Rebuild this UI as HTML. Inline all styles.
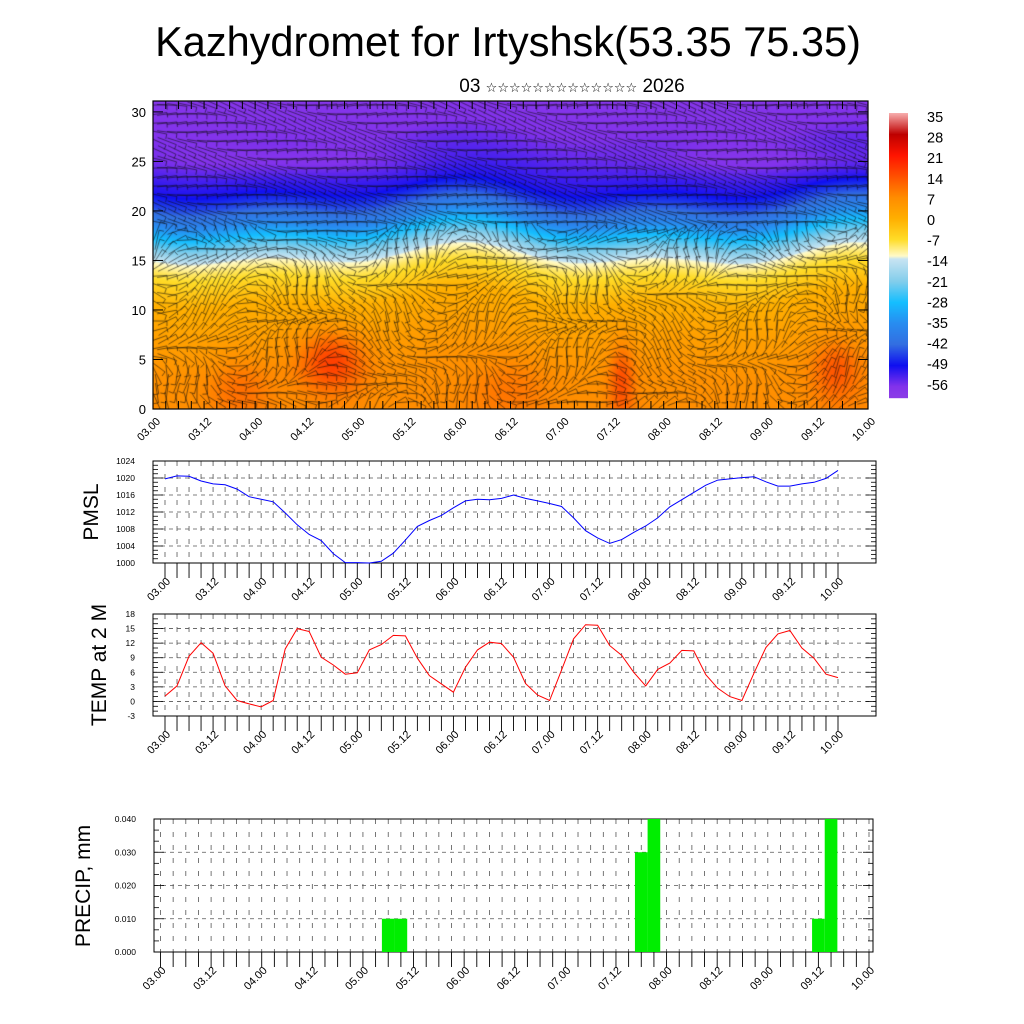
<!DOCTYPE html>
<html><head><meta charset="utf-8"><style>
html,body{margin:0;padding:0;background:#fff;}
#wrap{position:relative;width:1024px;height:1024px;overflow:hidden;font-family:"Liberation Sans",sans-serif;}
#field{position:absolute;left:153px;top:101px;}
svg{position:absolute;left:0;top:0;}
</style></head><body>
<div id="wrap">
<canvas id="field" width="715" height="308"></canvas>
<svg id="svg" width="1024" height="1024">
<text x="508" y="56" text-anchor="middle" font-size="41.5" font-family="Liberation Sans, sans-serif">Kazhydromet for Irtyshsk(53.35 75.35)</text>
<text x="572" y="92" text-anchor="middle" font-size="19" font-family="Liberation Sans, DejaVu Sans, sans-serif">03 <tspan font-size="13">☆☆☆☆☆☆☆☆☆☆☆☆☆</tspan> 2026</text>
<text transform="translate(98,512) rotate(-90)" text-anchor="middle" font-size="21">PMSL</text>
<text transform="translate(106,665) rotate(-90)" text-anchor="middle" font-size="21">TEMP at 2 M</text>
<text transform="translate(90,886) rotate(-90)" text-anchor="middle" font-size="21">PRECIP, mm</text>
</svg>
</div>
<script>
const timeLabels=["03.00","03.12","04.00","04.12","05.00","05.12","06.00","06.12","07.00","07.12","08.00","08.12","09.00","09.12","10.00"];
const pmslValues=[1019.8,1020.5,1020.4,1019.3,1018.6,1018.4,1017.4,1015.6,1015,1014.4,1011.8,1009,1006.7,1005.3,1002.2,1000.1,1000.1,1000,1000.4,1002.3,1005.4,1008.6,1010,1011.2,1013,1014.6,1015,1014.9,1015.2,1016,1015.2,1014.6,1014,1013.3,1010.6,1007.6,1005.9,1004.6,1005.5,1007.2,1008.7,1010.6,1013.2,1014.9,1016.6,1018.3,1019.5,1019.8,1020.1,1020.3,1019.1,1018.1,1018.1,1018.6,1019,1019.9,1021.8];
const pmslTicks=[1000,1004,1008,1012,1016,1020,1024];
const tempValues=[1.1,3.2,9.3,12.1,9.9,3.2,0.2,-0.5,-1.1,0.2,10.8,15.0,14.4,9.1,7.5,5.6,5.9,10.6,11.7,13.6,13.5,8.9,5.3,3.6,1.9,7.0,10.6,12.2,11.9,9.1,3.7,1.3,0.2,6.5,12.9,15.8,15.7,11.5,9.5,6.0,3.2,6.6,7.9,10.5,10.4,5.5,2.7,1.0,0.2,5.8,11.1,13.9,14.6,11.0,8.9,5.6,4.9];
const tempTicks=[-3,0,3,6,9,12,15,18];
const precipIndex=[18,19,38,39,52,53];
const precipValues=[0.01,0.01,0.03,0.04,0.01,0.04];
const precipTicks=["0.000","0.010","0.020","0.030","0.040"];
const heightTicks=[0,5,10,15,20,25,30];
const cbarLabels=[35,28,21,14,7,0,-7,-14,-21,-28,-35,-42,-49,-56];

const NS="http://www.w3.org/2000/svg";
const svg=document.getElementById('svg');
function mk(tag,attrs,parent){const e=document.createElementNS(NS,tag);for(const k in attrs)e.setAttribute(k,attrs[k]);(parent||svg).appendChild(e);return e;}
function txt(x,y,s,size,anchor,tr){const t=mk('text',{x:x,y:y,'font-size':size,'text-anchor':anchor||'end'});if(tr)t.setAttribute('transform',tr);t.textContent=s;return t;}

const cstops=[[35,[246,170,170]],[28,[190,0,0]],[21,[255,20,0]],[14,[255,80,0]],[7,[255,140,0]],[0,[255,175,0]],[-7,[255,220,40]],[-12.5,[255,250,200]],[-13.5,[200,228,242]],[-21,[130,205,235]],[-28,[20,190,255]],[-35,[40,140,240]],[-42,[50,110,225]],[-49,[15,15,240]],[-56,[130,50,235]],[-60,[140,60,230]]];
function cmap(v){if(v>=cstops[0][0])return cstops[0][1];for(let i=0;i<cstops.length-1;i++){const a=cstops[i],b=cstops[i+1];if(v<=a[0]&&v>=b[0]){const t=(a[0]-v)/(a[0]-b[0]);return a[1].map((c,j)=>Math.round(c+(b[1][j]-c)*t));}}return cstops[cstops.length-1][1];}
const profH=[0,4,8,11,13,14.5,15.5,16.5,18,19.5,21,22.5,24,26,28,31];
const profT=[7,6,3,0,-5,-9,-13,-20,-29,-38,-45,-50,-52,-54,-56,-57];
function prof(h){for(let i=0;i<profH.length-1;i++){if(h<=profH[i+1]){const t=(h-profH[i])/(profH[i+1]-profH[i]);return profT[i]+(profT[i+1]-profT[i])*t;}}return profT[profT.length-1];}
const hot=[[0.25,5,11,1.3,3],[0.655,3,8,0.5,4],[0.955,4,7,0.9,3],[0.12,2,4,1.2,3],[0.5,2,3,1.5,3]];
function field(fx,h){
  let hh=h+0.8*Math.sin(fx*11)+0.6*Math.sin(fx*23+1);
  let T=prof(hh);
  for(const s of hot){const dx=(fx-s[0])/(0.035*s[3]),dy=(h-s[1])/s[4];T+=s[2]*Math.exp(-(dx*dx+dy*dy));}
  if(h>22&&h<28){T-=3*Math.exp(-Math.pow((h-25)/1.5,2))*(0.5+0.5*Math.sin(fx*9));}
  return T;
}
const cv=document.getElementById('field');const ctx=cv.getContext('2d');
const W=715,H=308,HMAX=31.1;
const img=ctx.createImageData(W,H);
for(let y=0;y<H;y++){const h=(H-y)/H*HMAX;for(let x=0;x<W;x++){const c=cmap(field(x/W,h));const p=(y*W+x)*4;img.data[p]=c[0];img.data[p+1]=c[1];img.data[p+2]=c[2];img.data[p+3]=255;}}
ctx.putImageData(img,0,0);
ctx.strokeStyle='rgba(10,10,10,0.7)';ctx.lineWidth=0.8;
for(let gy=4;gy<H;gy+=9){for(let gx=4;gx<W;gx+=10){
  const fx=gx/W,h=(H-gy)/H*HMAX;
  let a=0.9*Math.sin(fx*17+h*0.3)+0.7*Math.cos(fx*31-h*0.5)+0.4*Math.sin(h*0.7);
  if(h>18)a=0.3*Math.sin(fx*20+h)+0.15;
  const L=20;const dx=Math.cos(a)*L/2,dy=Math.sin(a)*L/2;
  ctx.beginPath();ctx.moveTo(gx-dx,gy-dy);ctx.lineTo(gx+dx,gy+dy);
  ctx.moveTo(gx+dx,gy+dy);ctx.lineTo(gx+dx-Math.sin(a)*5,gy+dy+Math.cos(a)*5);ctx.stroke();
}}
const TX0=153,TX1=868,TY0=101,TY1=409;
function hy(v){return TY1-v/HMAX*(TY1-TY0);}
mk('rect',{x:TX0,y:TY0,width:TX1-TX0,height:TY1-TY0,fill:'none',stroke:'#000','stroke-width':1.2,});
for(let i=0;i<=56;i++){const x=TX0+i*(TX1-TX0)/56;mk('line',{x1:x,y1:TY1,x2:x,y2:TY1-8,stroke:'#000'});mk('line',{x1:x,y1:TY0,x2:x,y2:TY0+8,stroke:'#000'});}
heightTicks.forEach(v=>{const y=hy(v);mk('line',{x1:TX0,y1:y,x2:TX0+10,y2:y,stroke:'#000'});mk('line',{x1:TX1,y1:y,x2:TX1-10,y2:y,stroke:'#000'});const t=txt(146,y+5,String(v),13);});
timeLabels.forEach((s,i)=>{const x=TX0+i*(TX1-TX0)/14;const t=txt(0,0,s,11,'end',`translate(${x+8},${TY1+13}) rotate(-45)`);});
const g=mk('g',{});
for(let y=113;y<398;y++){const v=35-(y-113)/(398-113)*(35+60);mk('rect',{x:889,y:y,width:19,height:1.2,fill:'rgb('+cmap(v).join(',')+')'},g);}
cbarLabels.forEach((v,i)=>{const t=txt(927,122+i*20.6,String(v),14.5,'start');});

function linePanel(o){
  const {y0,y1,x0,x1,dx0,dx1,ticks,vals,color,minor,name}=o;
  const vmin=ticks[0],vmax=ticks[ticks.length-1];
  const sy=v=>y1-(v-vmin)/(vmax-vmin)*(y1-y0);
  const sx=i=>dx0+i*(dx1-dx0)/56;
  const grp=mk('g',{});
  ticks.forEach((v,k)=>{if(k>0&&k<ticks.length-1)mk('line',{x1:x0,y1:sy(v),x2:x1,y2:sy(v),stroke:'#555','stroke-dasharray':'4,4','stroke-width':0.8},grp);});
  for(let i=0;i<=56;i++){mk('line',{x1:sx(i),y1:y0,x2:sx(i),y2:y1,stroke:'#555','stroke-dasharray':'5,8','stroke-width':0.8},grp);mk('line',{x1:sx(i),y1:y1,x2:sx(i),y2:y1+15,stroke:'#000','stroke-width':0.9},grp);}
  const step=(ticks[1]-ticks[0])/minor;
  for(let v=vmin;v<=vmax+1e-9;v+=step){const y=sy(v);const big=Math.abs((v-vmin)/(ticks[1]-ticks[0])-Math.round((v-vmin)/(ticks[1]-ticks[0])))<1e-6;const L=big?10:5;mk('line',{x1:x0,y1:y,x2:x0+L,y2:y,stroke:'#000','stroke-width':0.8},grp);mk('line',{x1:x1,y1:y,x2:x1-L,y2:y,stroke:'#000','stroke-width':0.8},grp);}
  mk('rect',{x:x0,y:y0,width:x1-x0,height:y1-y0,fill:'none',stroke:'#000','stroke-width':1},grp);
  ticks.forEach(v=>{const t=txt(x0-18,sy(v)+3,o.fmt?o.fmt(v):String(v),8.5);});
  timeLabels.forEach((s,i)=>{const x=sx(i*4);const t=txt(0,0,s,11,'end',`translate(${x+6},${y1+19}) rotate(-45)`);});
  if(vals){const pts=vals.map((v,i)=>sx(i).toFixed(1)+','+sy(v).toFixed(1)).join(' ');const pl=mk('polyline',{points:pts,fill:'none',stroke:color,'stroke-width':1},grp);}
  return {sx,sy,grp};
}
linePanel({y0:461,y1:563,x0:153,x1:876,dx0:165,dx1:838,ticks:pmslTicks,vals:pmslValues,color:'#0000ff',minor:4,name:'pmsl'});
linePanel({y0:614,y1:716,x0:153,x1:876,dx0:165,dx1:838,ticks:tempTicks,vals:tempValues,color:'#ff0000',minor:3,name:'temp'});
const pticksNum=precipTicks.map(Number);
const P=linePanel({y0:819,y1:952,x0:154,x1:873,dx0:160.5,dx1:869,ticks:pticksNum,vals:null,minor:3,name:'precip',fmt:v=>v.toFixed(3)});
const bw=(869-160.5)/56;
precipIndex.forEach((k,j)=>{const v=precipValues[j];const r=mk('rect',{x:P.sx(k)-bw/2,y:P.sy(v),width:bw,height:P.sy(0)-P.sy(v),fill:'#00ee00'},P.grp);

});
</script>
</body></html>
